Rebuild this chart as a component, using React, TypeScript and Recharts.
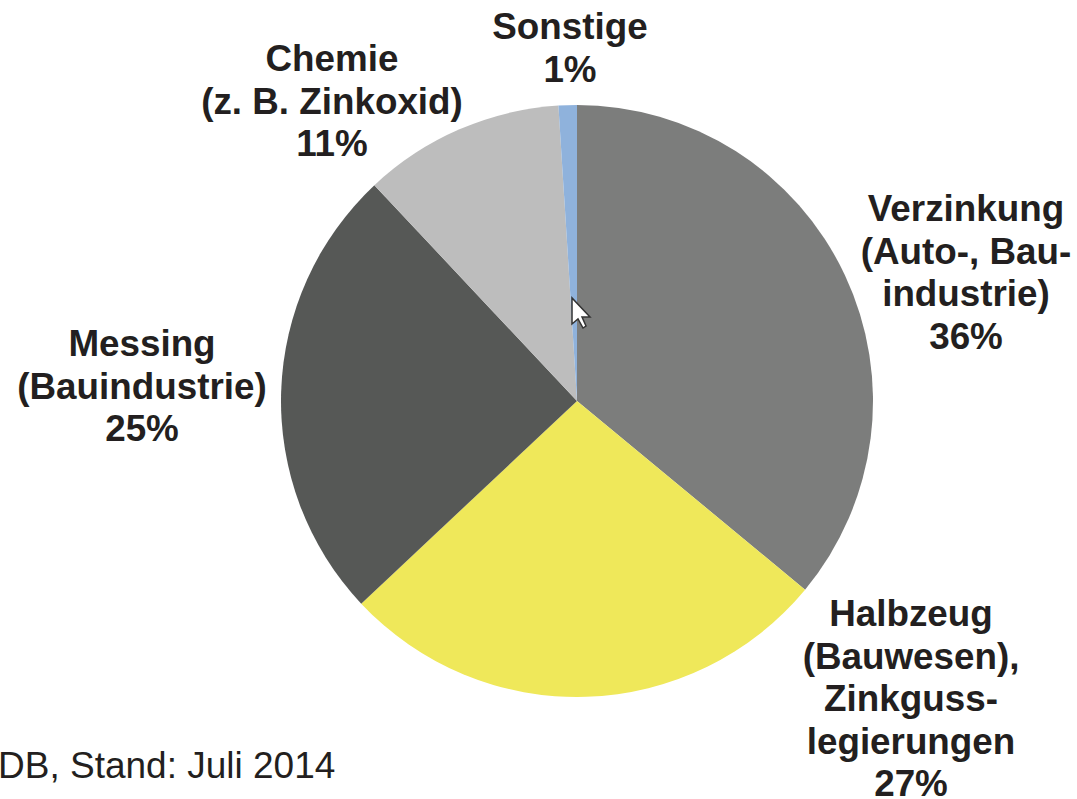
import React from 'react';
import { PieChart, Pie, Cell } from 'recharts';

const categories = ['Verzinkung', 'Halbzeug', 'Messing', 'Chemie', 'Sonstige'];
const shares = [36, 27, 25, 11, 1];
const sliceColors = ['#7c7d7c', '#efe85a', '#565856', '#bdbdbd', '#8fb2dc'];

const labelLines = [
  ['Verzinkung', '(Auto-, Bau-', 'industrie)', '36%'],
  ['Halbzeug', '(Bauwesen),', 'Zinkguss-', 'legierungen', '27%'],
  ['Messing', '(Bauindustrie)', '25%'],
  ['Chemie', '(z. B. Zinkoxid)', '11%'],
  ['Sonstige', '1%'],
];
// anchor of the first line of each label, in chart pixels
const labelX = [966, 911, 142, 332, 570];
const labelY = [221, 626, 356, 71, 39];
const lineStep = 42.5;

const data = categories.map((name, i) => ({ name, value: shares[i] }));

const renderLabel = ({ index }: { index: number }) => (
  <text
    key={index}
    x={labelX[index]}
    y={labelY[index]}
    textAnchor="middle"
    fontFamily="Liberation Sans, Arial, sans-serif"
    fontWeight="bold"
    fontSize={36.8}
    fill="#231f20"
  >
    {labelLines[index].map((line, j) => (
      <tspan key={j} x={labelX[index]} y={labelY[index] + j * lineStep}>
        {line}
      </tspan>
    ))}
  </text>
);

export default function App() {
  return (
    <div style={{ position: 'absolute', left: 0, top: 0, width: 1077, height: 799, background: '#fff', overflow: 'hidden' }}>
      <PieChart width={1077} height={799} margin={{ top: 0, right: 0, bottom: 0, left: 0 }}>
        <Pie
          data={data}
          dataKey="value"
          nameKey="name"
          cx={577}
          cy={401}
          innerRadius={0}
          outerRadius={296}
          startAngle={90}
          endAngle={-270}
          stroke="none"
          label={renderLabel}
          labelLine={false}
          isAnimationActive={false}
        >
          {data.map((d, i) => (
            <Cell key={d.name} fill={sliceColors[i]} />
          ))}
        </Pie>
      </PieChart>
      <div style={{ position: 'absolute', left: -2, top: 745, fontFamily: 'Liberation Sans, Arial, sans-serif', fontSize: 37, lineHeight: '42px', color: '#231f20', whiteSpace: 'nowrap' }}>
        DB, Stand: Juli 2014
      </div>
      <svg style={{ position: 'absolute', left: 570, top: 296 }} width={24} height={34}>
        <path d="M2 2 L2 28 L8 23 L13 32 L16 30 L12 21 L20 21 Z" fill="#fff" stroke="#333" strokeWidth={1.5} />
      </svg>
    </div>
  );
}
